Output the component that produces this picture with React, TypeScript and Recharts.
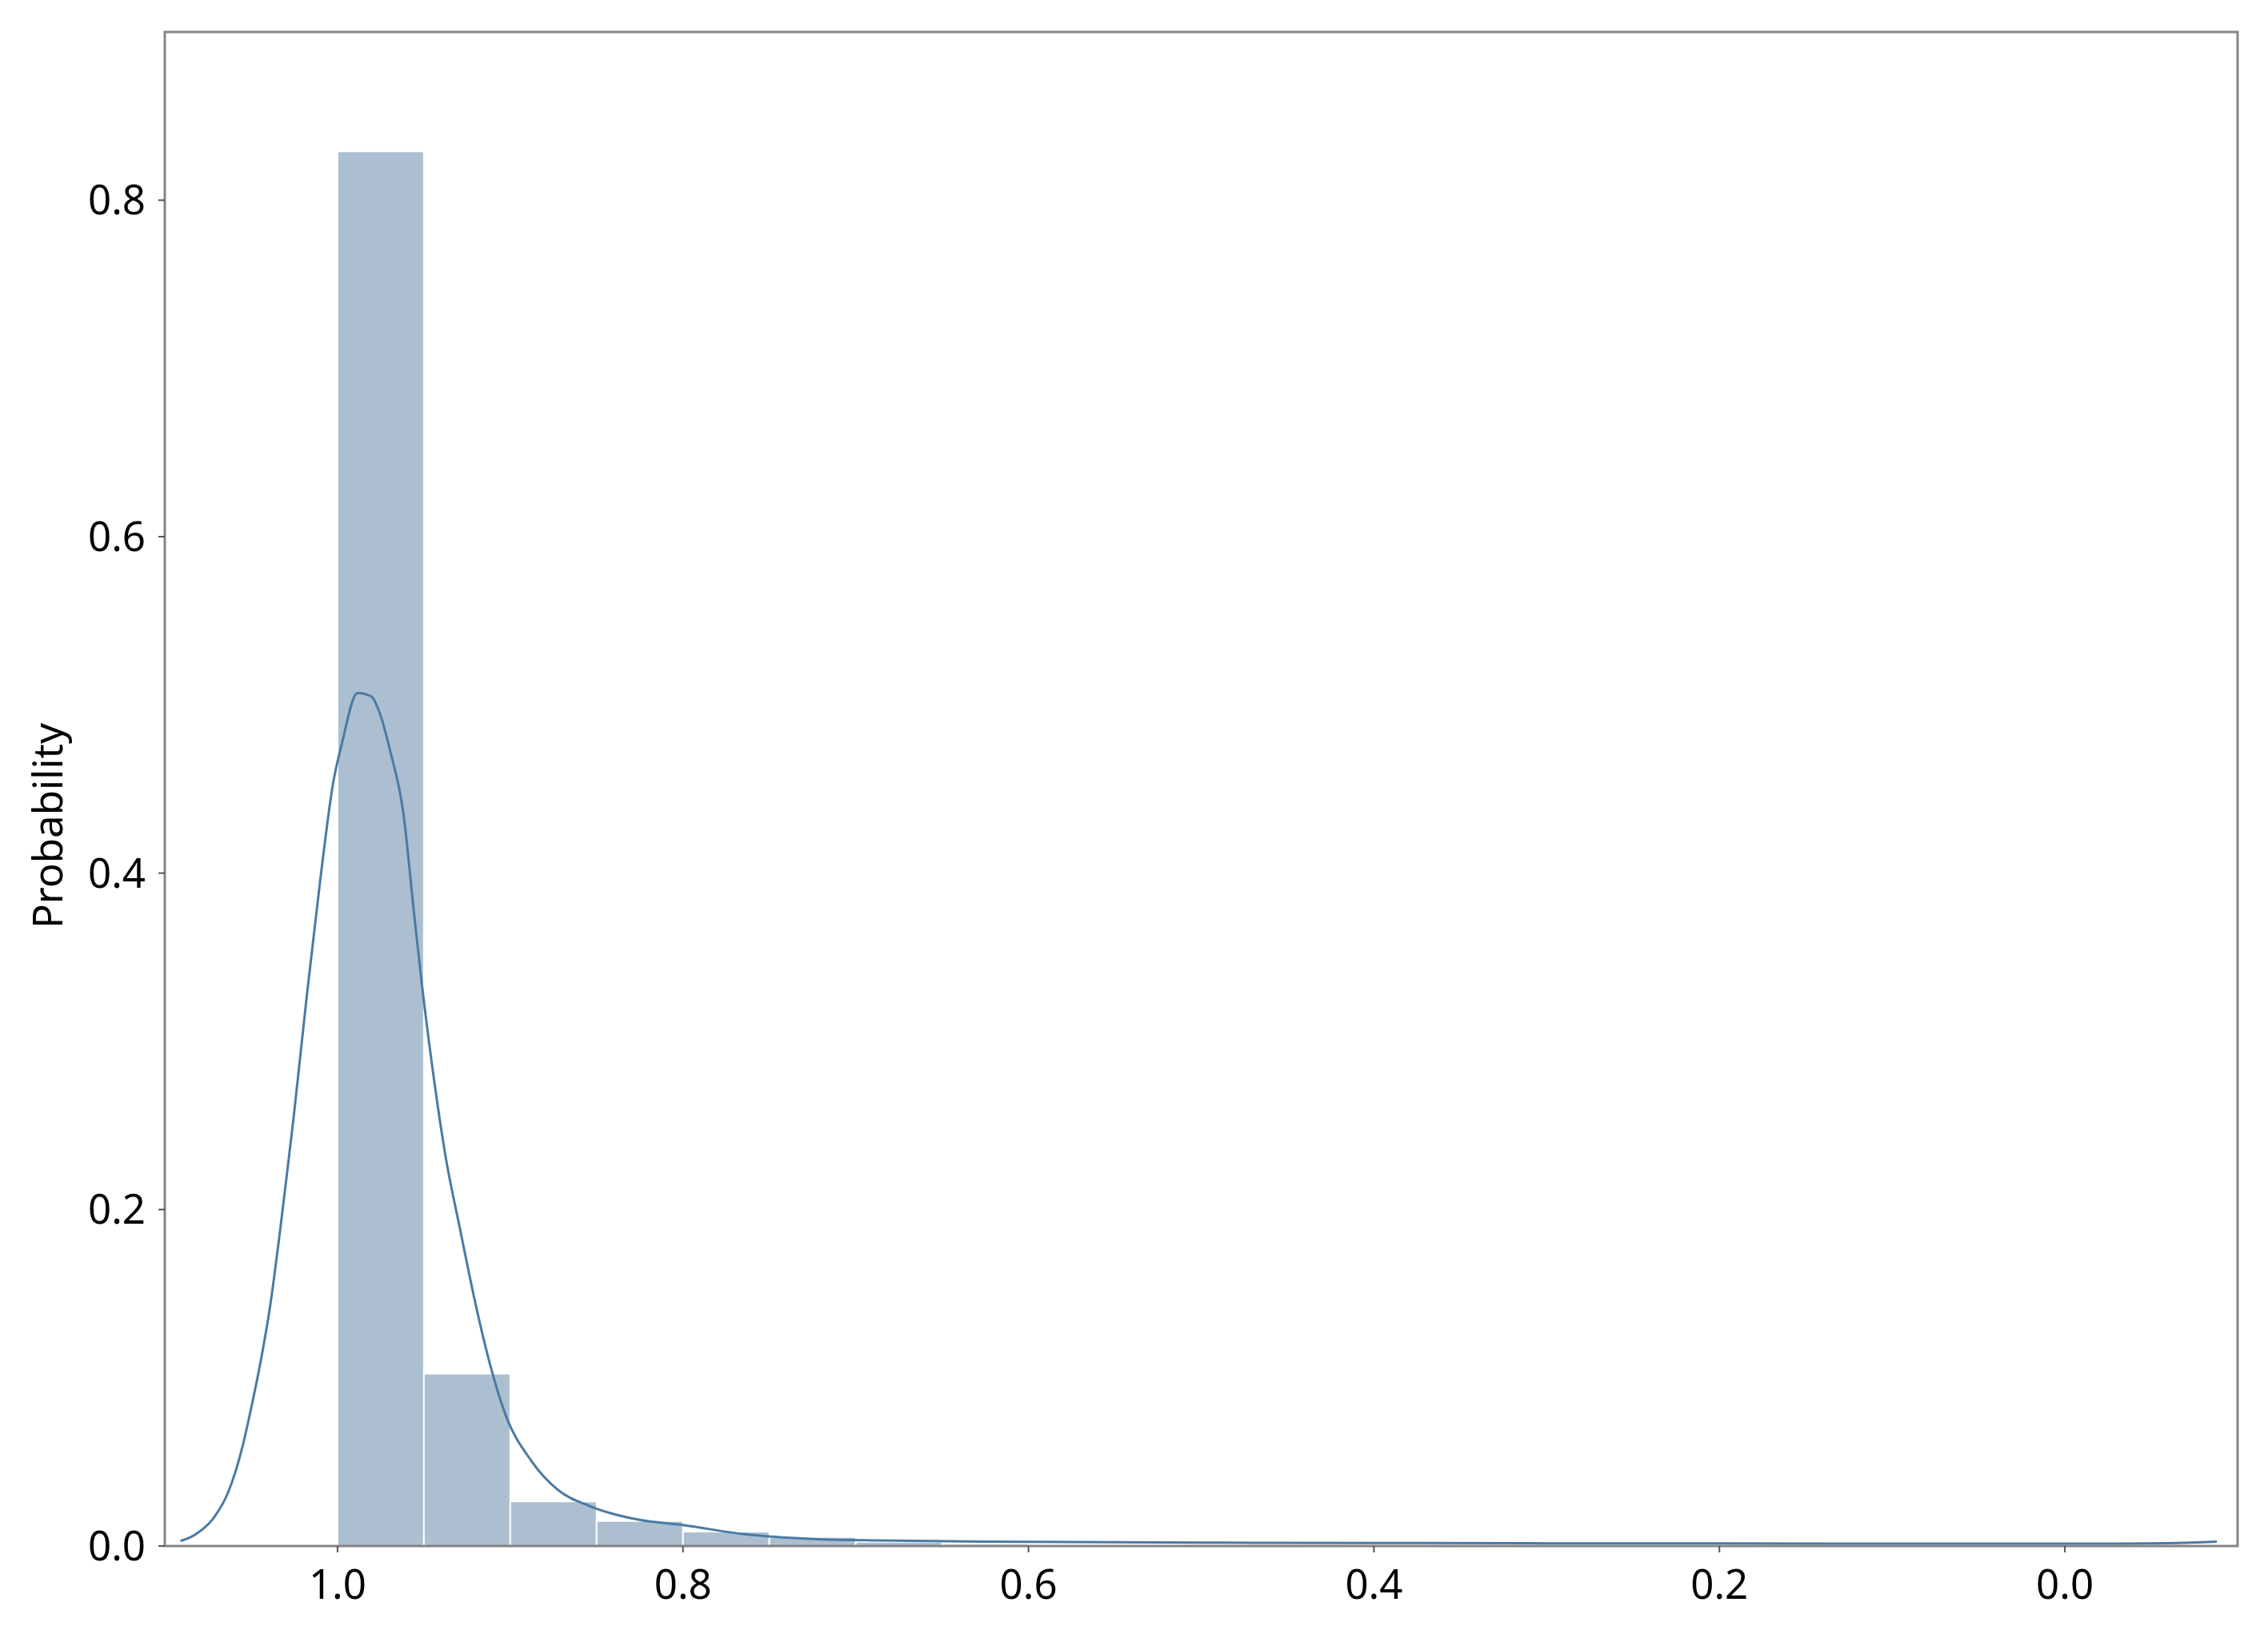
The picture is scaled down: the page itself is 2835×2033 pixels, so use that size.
import React from 'react'
import { ComposedChart, Line, XAxis, YAxis, ReferenceArea } from 'recharts'

document.body.style.margin = '0'
document.body.style.background = '#ffffff'

// histogram bins (edges, high -> low) and their probabilities
const BIN_EDGES = [
  1.0, 0.95, 0.9, 0.85, 0.8, 0.75, 0.7, 0.65, 0.6, 0.55, 0.5,
  0.45, 0.4, 0.35, 0.3, 0.25, 0.2, 0.15, 0.1, 0.05, 0.0,
]
const BIN_PROB = [
  0.829, 0.1025, 0.0265, 0.0149, 0.0086, 0.0054, 0.0025, 0.0012, 0.001, 0.0008,
  0.0007, 0.0006, 0.0006, 0.0005, 0.0005, 0.0004, 0.0004, 0.0004, 0.0003, 0.0005,
]

// kde curve
const KDE_X = [
  1.091, 1.0826, 1.0718, 1.0633, 1.0548, 1.0502, 1.0432, 1.0394, 1.0332, 1.0285,
  1.0255, 1.0177, 1.01, 1.0023, 0.9977, 0.9884, 0.9804, 0.9757, 0.9696, 0.9618,
  0.9557, 0.951, 0.9449, 0.9371, 0.9294, 0.9186, 0.9108, 0.9031, 0.8877, 0.8722,
  0.8537, 0.8259, 0.8, 0.7641, 0.7332, 0.6869, 0.6, 0.5, 0.4, 0.3,
  0.2, 0.1, 0.0, -0.05, -0.08, -0.088,
]
const KDE_Y = [
  0.003, 0.0067, 0.0166, 0.032, 0.06, 0.081, 0.117, 0.14, 0.188, 0.228,
  0.254, 0.328, 0.396, 0.455, 0.476, 0.507, 0.505, 0.4955, 0.473, 0.435,
  0.376, 0.3325, 0.283, 0.2295, 0.19, 0.137, 0.1045, 0.079, 0.0505, 0.0332,
  0.0236, 0.0157, 0.0125, 0.007, 0.0046, 0.0033, 0.0025, 0.002, 0.0018, 0.0016,
  0.0015, 0.0014, 0.0014, 0.0015, 0.0022, 0.0026,
]

const X_TICKS = [0, 0.2, 0.4, 0.6, 0.8, 1.0]
const Y_TICKS = [0, 0.2, 0.4, 0.6, 0.8]

const kde = KDE_X.map((x, i) => ({ x, y: KDE_Y[i] }))

const FONT = "'Noto Sans', sans-serif"
const tickStyle = { fill: '#000', fontSize: 51, fontFamily: FONT }

const YLabel = (props: any) => {
  const vb = props.viewBox
  const cx = 58
  const cy = vb.y + vb.height / 2 + 46
  return (
    <text
      x={cx}
      y={cy}
      transform={`rotate(-90, ${cx}, ${cy})`}
      textAnchor="middle"
      dominantBaseline="central"
      fill="#000"
      fontSize={51}
      fontFamily={FONT}
    >
      Probability
    </text>
  )
}

export default function App() {
  return (
    <div style={{ width: 2835, height: 2033, background: '#fff' }}>
      <ComposedChart
        width={2835}
        height={2033}
        margin={{ top: 40, right: 38, bottom: 40, left: 86 }}
      >
        <XAxis
          type="number"
          dataKey="x"
          domain={[-0.1, 1.1]}
          reversed
          allowDataOverflow
          ticks={X_TICKS}
          tickFormatter={(v: number) => v.toFixed(1)}
          tick={tickStyle}
          tickLine={{ stroke: '#555', strokeWidth: 2 }}
          tickSize={8}
          tickMargin={22}
          axisLine={false}
          height={60}
        />
        <YAxis
          type="number"
          domain={[0, 0.9]}
          allowDataOverflow
          ticks={Y_TICKS}
          tickFormatter={(v: number) => v.toFixed(1)}
          tick={tickStyle}
          tickLine={{ stroke: '#555', strokeWidth: 2 }}
          tickSize={8}
          tickMargin={16}
          axisLine={false}
          width={120}
          label={<YLabel />}
        />
        {BIN_PROB.map((p, i) => (
          <ReferenceArea
            key={i}
            x1={BIN_EDGES[i + 1]}
            x2={BIN_EDGES[i]}
            y1={0}
            y2={p}
            fill="#abbfd1"
            fillOpacity={1}
            stroke="#ffffff"
            strokeWidth={2}
            ifOverflow="visible"
          />
        ))}
        <Line
          data={kde}
          dataKey="y"
          type="monotone"
          dot={false}
          activeDot={false}
          stroke="#4b7aa3"
          strokeWidth={3}
          isAnimationActive={false}
        />
        <ReferenceArea
          x1={-0.1}
          x2={1.1}
          y1={0}
          y2={0.9}
          fill="none"
          stroke="#848484"
          strokeWidth={3}
          ifOverflow="visible"
        />
      </ComposedChart>
    </div>
  )
}
